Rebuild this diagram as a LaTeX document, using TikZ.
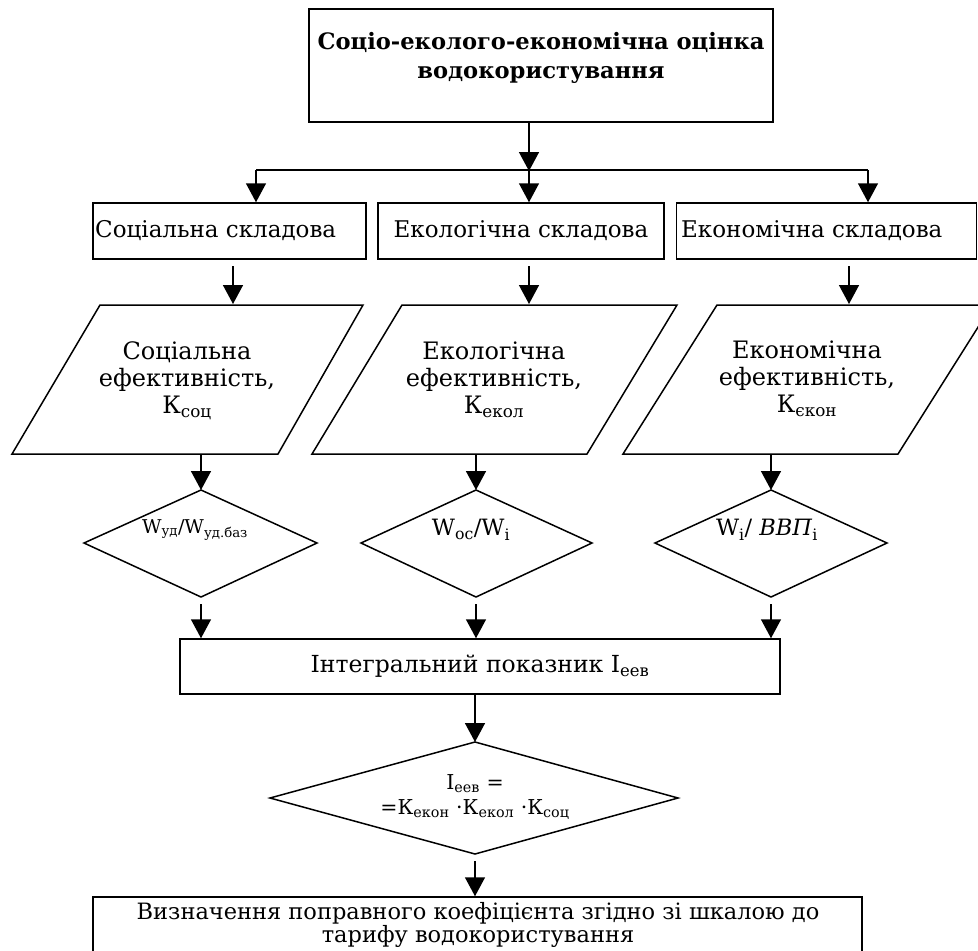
\documentclass[tikz,border=0pt]{standalone}
\usepackage{fontspec}
\setmainfont{DejaVu Serif}
\usetikzlibrary{arrows.meta,calc}
\tikzset{
  box/.style={draw, line width=1.5pt, inner sep=0pt},
  shp/.style={draw, line width=1.5pt, line join=miter},
  arr/.style={-{Triangle[length=19pt,width=20pt]}, line width=1.5pt},
  lbl/.style={inner sep=0pt, font=\fontsize{23}{27}\selectfont},
  para/.style={inner sep=0pt, align=center, font=\fontsize{24}{27}\selectfont},
  dtext/.style={inner sep=0pt, align=center, font=\fontsize{22.5}{25}\selectfont},
}
\begin{document}
\begin{tikzpicture}[x=1pt,y=-1pt]
\clip (0,0) rectangle (978,951);
% top box
\node[box, minimum width=464pt, minimum height=113pt] (top) at (541,65.5) {};
\node[inner sep=0pt, align=center, font=\bfseries\fontsize{22.6}{29}\selectfont] (toptext) at (541,58)
  {Соціо-еколого-економічна оцінка\\водокористування};
% component boxes
\node[box, minimum width=273pt, minimum height=56pt] (soc) at (229.5,231) {};
\node[box, minimum width=286pt, minimum height=56pt] (eco) at (521,231) {};
\node[box, minimum width=300pt, minimum height=56pt] (ekn) at (826.5,231) {};
\node[lbl, anchor=west] (soct) at (95,231) {Соціальна складова};
\node[lbl] (ecot) at (521,231) {Екологічна складова};
\node[lbl, anchor=west] (eknt) at (681,231) {Економічна складова};
% branching
\coordinate (b0) at (529,122);
\coordinate (bm) at (529,171);
\coordinate (bl) at (256,170);
\coordinate (br) at (868,170);
\draw[arr] (top.south -| b0) -- (bm);
\draw[line width=1.5pt] (bl) -- (br);
\draw[arr] (bl) -- (bl |- soc.north);
\draw[arr] (bm) -- (bm |- eco.north);
\draw[arr] (br) -- (br |- ekn.north);
% parallelograms
\draw[shp] (100,305) coordinate (p1a) -- (363,305) -- (278,454) -- (12,454) coordinate (p1b) -- cycle;
\draw[shp] (402,305) coordinate (p2a) -- (677,305) -- (587,454) -- (312,454) coordinate (p2b) -- cycle;
\draw[shp] (717,305) coordinate (p3a) -- (992,305) -- (898,454) -- (623,454) coordinate (p3b) -- cycle;
\node[para] (p1t) at (187,381) {Соціальна\\ефективність,\\К\textsubscript{соц}};
\node[para] (p2t) at (494,380) {Екологічна\\ефективність,\\К\textsubscript{екол}};
\node[para] (p3t) at (807,379) {Економічна\\ефективність,\\К\textsubscript{єкон}};
\coordinate (a1s) at (233,266); \coordinate (a1e) at (233,304);
\coordinate (a2s) at (529,266); \coordinate (a2e) at (529,304);
\coordinate (a3s) at (849,266); \coordinate (a3e) at (849,304);
\draw[arr] (a1s) -- (a1e);
\draw[arr] (a2s) -- (a2e);
\draw[arr] (a3s) -- (a3e);
% diamonds
\draw[shp] (201,490) coordinate (d1t) -- (317,543) -- (201,597) coordinate (d1b) -- (84,543) -- cycle;
\draw[shp] (476,490) coordinate (d2t) -- (592,543) -- (476,597) coordinate (d2b) -- (361,543) -- cycle;
\draw[shp] (771,490) coordinate (d3t) -- (887,543) -- (771,597) coordinate (d3b) -- (655,543) -- cycle;
\node[dtext, font=\fontsize{19}{25}\selectfont] (d1x) at (195,530) {W\textsubscript{уд}/W\textsubscript{уд.баз}};
\node[dtext] (d2x) at (471,530) {W\textsubscript{ос}/W\textsubscript{i}};
\node[dtext] (d3x) at (767,530) {W\textsubscript{i}/ \textit{ВВП}\textsubscript{i}};
\draw[arr] (201,455) -- (d1t);
\draw[arr] (476,455) -- (d2t);
\draw[arr] (771,455) -- (d3t);
% integral box
\node[box, minimum width=600pt, minimum height=55pt] (int) at (480,666.5) {};
\node[lbl, font=\fontsize{23.5}{27}\selectfont] (intt) at (480,666) {Інтегральний показник I\textsubscript{еев}};
\draw[arr] ($(d1b)+(0,7)$) -- (d1b |- int.north);
\draw[arr] ($(d2b)+(0,7)$) -- (d2b |- int.north);
\draw[arr] ($(d3b)+(0,7)$) -- (d3b |- int.north);
% bottom diamond
\draw[shp] (475,742) coordinate (d4t) -- (678,798) -- (475,854) coordinate (d4b) -- (270,798) -- cycle;
\node[dtext, font=\fontsize{20.5}{25}\selectfont] (d4x) at (475,797) {I\textsubscript{еев} =\\=К\textsubscript{екон} ·К\textsubscript{екол} ·К\textsubscript{соц}};
\draw[arr] (int.south -| d4t) -- (d4t);
% final box
\node[box, minimum width=769pt, minimum height=70pt] (fin) at (477.5,932) {};
\node[inner sep=0pt, align=center, font=\fontsize{22.5}{23}\selectfont] (fint) at (478,925)
  {Визначення поправного коефіцієнта згідно зі шкалою до\\тарифу водокористування};
\draw[arr] ($(d4b)+(0,7)$) -- (d4b |- fin.north);
\end{tikzpicture}
\end{document}
